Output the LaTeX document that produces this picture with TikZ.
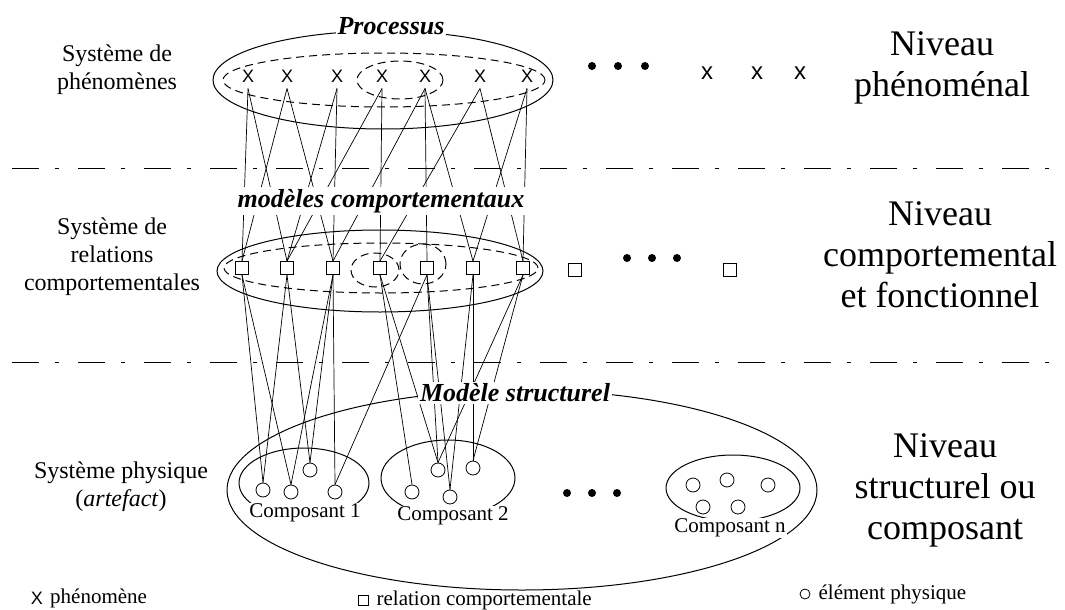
\documentclass[tikz,border=0pt]{standalone}
\usepackage{fontspec}
\setmainfont{Liberation Serif}
\newfontfamily\markfont{Liberation Sans}
\usetikzlibrary{positioning}

\begin{document}
\begin{tikzpicture}[x=1pt, y=-1pt,
        phen/.style={font=\markfont\fontsize{18}{18}\selectfont, inner sep=0pt, minimum height=13pt, outer sep=6pt},
        phensmall/.style={font=\markfont\fontsize{24}{24}\selectfont, inner sep=0pt},
        rel/.style={rectangle, draw, line width=0.8pt, minimum size=13pt, inner sep=0pt, fill=white},
        elem/.style={circle, draw, line width=0.8pt, minimum size=14pt, inner sep=0pt, fill=white},
        sysname/.style={align=center, font=\fontsize{24}{28}\selectfont},
        level/.style={align=center, font=\fontsize{36}{41}\selectfont},
        model/.style={font=\fontsize{26}{26}\selectfont\bfseries\itshape, fill=white, inner sep=2pt},
        comp/.style={font=\fontsize{21}{21}\selectfont, fill=white, inner sep=1pt},
        legend/.style={font=\fontsize{21}{21}\selectfont, inner sep=0pt},
        link/.style={line width=0.7pt},
        outline/.style={line width=1pt},
        group/.style={line width=1pt, dash pattern=on 8pt off 5pt},
        separator/.style={line width=1pt, dash pattern=on 27pt off 16pt on 4pt off 19pt},
        dotmark/.style={circle, fill, inner sep=0pt, minimum size=8pt}
        ]
        \useasboundingbox (0,0) rectangle (1065,610);

        % Separators
        \draw [separator] (12,168) -- (1062,168);
        \draw [separator] (12,362) -- (1062,362);

        % Nodes: phenomena
        \node (phen1) [phen] at (248,76) {X};
        \node (phen2) [phen] at (287,76) {X};
        \node (phen3) [phen] at (337,76) {X};
        \node (phen4) [phen] at (382,76) {X};
        \node (phen5) [phen] at (425,76) {X};
        \node (phen6) [phen] at (480,76) {X};
        \node (phen7) [phen] at (527,76) {X};
        \node (phen8) [phensmall] at (707,73) {x};
        \node (phen9) [phensmall] at (757,73) {x};
        \node (phen10) [phensmall] at (800,73) {x};
        \node (dotsA1) [dotmark] at (592,66) {};
        \node (dotsA2) [dotmark] at (618,66) {};
        \node (dotsA3) [dotmark] at (645,66) {};

        % Nodes: relations
        \node (rel1) [rel] at (242,268) {};
        \node (rel2) [rel] at (287,268) {};
        \node (rel3) [rel] at (333,268) {};
        \node (rel4) [rel] at (380,268) {};
        \node (rel5) [rel] at (427,268) {};
        \node (rel6) [rel] at (473,268) {};
        \node (rel7) [rel] at (523,268) {};
        \node (rel8) [rel] at (575,270) {};
        \node (rel9) [rel] at (730,270) {};
        \node (dotsB1) [dotmark] at (627,258) {};
        \node (dotsB2) [dotmark] at (652,258) {};
        \node (dotsB3) [dotmark] at (677,258) {};

        % Nodes: physical elements
        \node (phys1) [elem] at (263,490) {};
        \node (phys2) [elem] at (291,492) {};
        \node (phys3) [elem] at (310,470) {};
        \node (phys4) [elem] at (335,492) {};
        \node (phys5) [elem] at (412,492) {};
        \node (phys6) [elem] at (438,470) {};
        \node (phys7) [elem] at (450,497) {};
        \node (phys8) [elem] at (473,468) {};
        \node (physn1) [elem] at (693,485) {};
        \node (physn2) [elem] at (727,480) {};
        \node (physn3) [elem] at (768,485) {};
        \node (physn4) [elem] at (703,507) {};
        \node (physn5) [elem] at (738,507) {};
        \node (dotsC1) [dotmark] at (567,493) {};
        \node (dotsC2) [dotmark] at (592,493) {};
        \node (dotsC3) [dotmark] at (617,493) {};

        % Links phenomena -> relations
        \draw [link] (phen1.south) -- (rel1.north);
        \draw [link] (phen1.south) -- (rel2.north);
        \draw [link] (phen2.south) -- (rel1.north);
        \draw [link] (phen2.south) -- (rel3.north);
        \draw [link] (phen3.south) -- (rel2.north);
        \draw [link] (phen3.south) -- (rel3.north);
        \draw [link] (phen4.south) -- (rel2.north);
        \draw [link] (phen4.south) -- (rel4.north);
        \draw [link] (phen5.south) -- (rel3.north);
        \draw [link] (phen5.south) -- (rel5.north);
        \draw [link] (phen5.south) -- (rel6.north);
        \draw [link] (phen6.south) -- (rel4.north);
        \draw [link] (phen6.south) -- (rel7.north);
        \draw [link] (phen7.south) -- (rel6.north);
        \draw [link] (phen7.south) -- (rel7.north);

        % Links relations -> physical elements
        \draw [link] (rel1.south) -- (phys1.north);
        \draw [link] (rel1.south) -- (phys2.north);
        \draw [link] (rel2.south) -- (phys1.north);
        \draw [link] (rel2.south) -- (phys3.north);
        \draw [link] (rel3.south) -- (phys2.north);
        \draw [link] (rel3.south) -- (phys3.north);
        \draw [link] (rel3.south) -- (phys4.north);
        \draw [link] (rel4.south) -- (phys5.north);
        \draw [link] (rel4.south) -- (phys6.north);
        \draw [link] (rel5.south) -- (phys4.north);
        \draw [link] (rel5.south) -- (phys6.north);
        \draw [link] (rel5.south) -- (phys7.north);
        \draw [link] (rel6.south) -- (phys7.north);
        \draw [link] (rel6.south) -- (phys8.north);
        \draw [link] (rel7.south) -- (phys6.north);
        \draw [link] (rel7.south) -- (phys8.north);

        % Groupings
        \draw [outline] (383,80) ellipse [x radius=170pt, y radius=49pt];
        \draw [group] (384,80) ellipse [x radius=161pt, y radius=27pt];
        \draw [group] (400,80) ellipse [x radius=43pt, y radius=19pt];
        \draw [outline] (380,271) ellipse [x radius=163pt, y radius=41pt];
        \draw [group] (381,268) ellipse [x radius=157pt, y radius=25pt];
        \draw [group] (375,270) ellipse [x radius=24pt, y radius=17pt];
        \draw [group] (423,264) ellipse [x radius=23pt, y radius=20pt];
        \draw [outline] (522,490) ellipse [x radius=295pt, y radius=100pt];
        \draw [outline] (304,483) ellipse [x radius=65pt, y radius=35pt];
        \draw [outline] (448,478) ellipse [x radius=67pt, y radius=38pt];
        \draw [outline] (733,488) ellipse [x radius=67pt, y radius=33pt];

        % Labels
        \node (process) [model] at (391,26) {Processus};
        \node (behmodel) [model] at (381,201) {modèles comportementaux};
        \node (structmodel) [model] at (515,393) {Modèle structurel};
        \node (comp1) [comp] at (305,513) {Composant 1};
        \node (comp2) [comp] at (453,516) {Composant 2};
        \node (compn) [comp] at (730,528) {Composant n};

        \node (sys1) [sysname] at (117,70) {Système de\\phénomènes};
        \node (sys2) [sysname] at (112,257) {Système de\\relations\\comportementales};
        \node (sys3) [sysname] at (121,487) {Système physique\\(\textit{artefact})};

        \node (lvl1) [level] at (942,68) {Niveau\\phénoménal};
        \node (lvl2) [level] at (940,255) {Niveau\\comportemental\\et fonctionnel};
        \node (lvl3) [level] at (945,490) {Niveau\\structurel ou\\composant};

        % Legend
        \node (legphen) [phen, outer sep=0pt] at (37,598) {X};
        \node (legphentxt) [legend, right=7pt of legphen] {phénomène};
        \node (legrel) [rel, minimum size=10pt] at (363,600) {};
        \node (legreltxt) [legend, right=8pt of legrel] {relation comportementale};
        \node (legelem) [elem, minimum size=10pt] at (805,594) {};
        \node (legelemtxt) [legend, right=8pt of legelem] {élément physique};

    \end{tikzpicture}
\end{document}
